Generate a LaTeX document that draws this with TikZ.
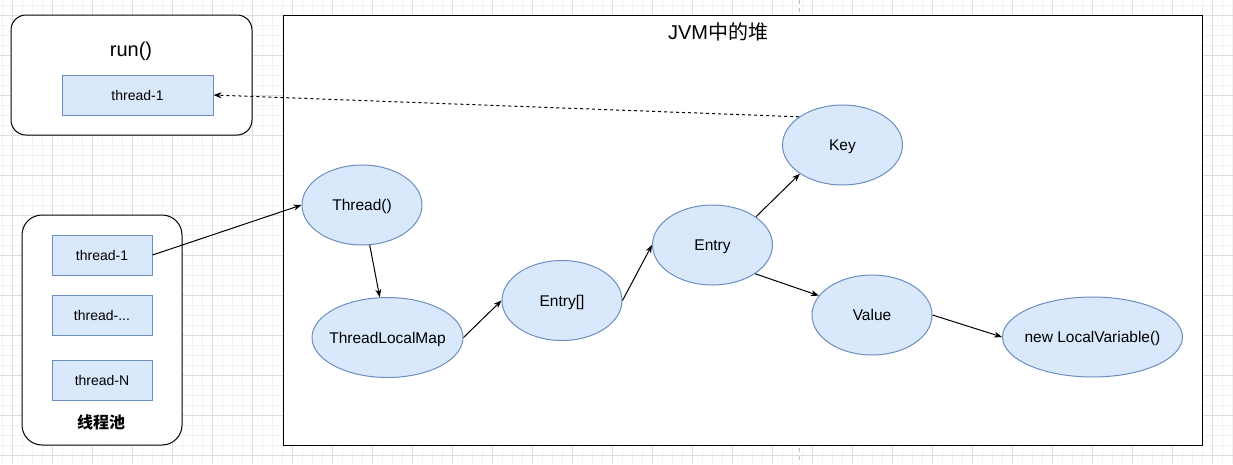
\documentclass[tikz,border=0pt]{standalone}
\usepackage{fontspec}
\setmainfont{Liberation Sans}
\newfontfamily\cjk{Noto Sans CJK SC}
\usetikzlibrary{arrows.meta, shapes.geometric}
\definecolor{boxfill}{HTML}{DAE8FC}
\definecolor{boxline}{HTML}{6C8EBF}
\definecolor{gridmajor}{HTML}{DEDEDE}
\definecolor{gridminor}{HTML}{F2F2F2}
\definecolor{pagebreak}{HTML}{C0C0C0}

\begin{document}
\begin{tikzpicture}[x=1pt, y=-1pt, >={Stealth[length=8pt, width=6pt]},
	every node/.style={font=\fontsize{15.5}{18}\selectfont},
	oval/.style={ellipse, draw=boxline, fill=boxfill, line width=1pt, minimum width=120pt, minimum height=80pt, inner sep=0pt, text height=11.1pt, text depth=0pt},
	slot/.style={rectangle, draw=boxline, fill=boxfill, line width=1pt, minimum width=100pt, minimum height=40pt, inner sep=0pt, font=\fontsize{14}{16}\selectfont, text height=10pt, text depth=0pt},
	link/.style={->, line width=1pt},
	panel/.style={draw=black, fill=white, line width=1pt}]
	\useasboundingbox (0,0) rectangle (1233,464);
	% background grid
	\fill[white] (0,0) rectangle (1233,464);
	\foreach \gx in {2.5,12.5,...,1232.5} {\draw[gridminor, line width=0.8pt] (\gx,0) -- (\gx,464);}
	\foreach \gy in {5.5,15.5,...,463.5} {\draw[gridminor, line width=0.8pt] (0,\gy) -- (1233,\gy);}
	\foreach \gx in {12.5,52.5,...,1232.5} {\draw[gridmajor, line width=0.8pt] (\gx,0) -- (\gx,464);}
	\foreach \gy in {15.5,55.5,...,463.5} {\draw[gridmajor, line width=0.8pt] (0,\gy) -- (1233,\gy);}
	\draw[pagebreak, line width=0.8pt, dash pattern=on 4pt off 4pt] (799,0) -- (799,464);
	% containers
	\draw[panel, rounded corners=15pt] (11,15) rectangle (252,135);
	\draw[panel, rounded corners=20pt] (22,215) rectangle (182,445);
	\draw[panel] (283,15) rectangle (1202,445);
	\node (runlabel) at (131,51) {\fontsize{20}{24}\selectfont run()};
	\node (heaplabel) at (718,32) {\fontsize{20}{24}\selectfont JVM{\cjk 中的堆}};
	\node (poollabel) at (101,422) {\cjk\bfseries\fontsize{16}{18}\selectfont 线程池};
	% threads
	\node[slot, minimum width=151pt] (runthread) at (137.5,95) {thread-1};
	\node[slot] (pool1) at (102,255) {thread-1};
	\node[slot] (pool2) at (102,315) {thread-...};
	\node[slot] (poolN) at (102,380) {thread-N};
	% heap objects
	\node[oval] (thread) at (362,205) {Thread()};
	\node[oval, minimum width=151pt] (tlm) at (387.5,337.5) {\makebox[0pt]{ThreadLocalMap}};
	\node[oval] (entries) at (562,300.5) {Entry[]};
	\node[oval] (entry) at (712.5,245) {Entry};
	\node[oval] (key) at (842.5,145) {Key};
	\node[oval] (value) at (872,315) {Value};
	\node[oval, minimum width=180pt] (localvar) at (1092.5,337) {\makebox[0pt]{new LocalVariable()}};
	% references
	\draw[link] (pool1.east) -- (thread.west);
	\draw[link] (thread) -- (tlm);
	\draw[link] (tlm.east) -- (entries.west);
	\draw[link] (entries.east) -- (entry.west);
	\draw[link] (entry.33) -- (key.214);
	\draw[link] (entry.-34) -- (value.160);
	\draw[link] (value.east) -- (localvar.west);
	\draw[link, dash pattern=on 3pt off 3pt] (key.147) -- (runthread.east);
\end{tikzpicture}
\end{document}
